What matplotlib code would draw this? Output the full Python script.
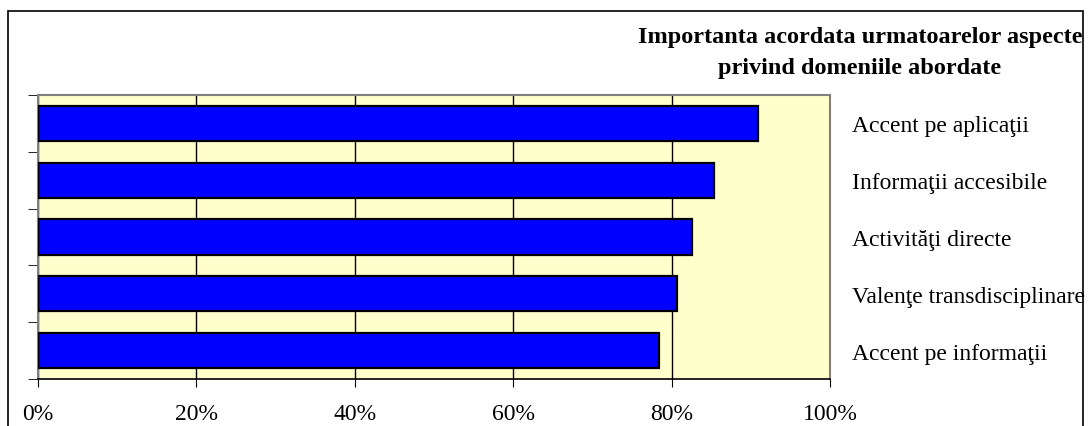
import numpy as np
from matplotlib import pyplot as plt
from matplotlib.patches import Rectangle

# categories listed bottom to top (as drawn)
categories = ['Accent pe informaţii', 'Valenţe transdisciplinare', 'Activităţi directe',
              'Informaţii accesibile', 'Accent pe aplicaţii']
values = [0.784, 0.807, 0.826, 0.853, 0.909]
xticks = [0, 0.2, 0.4, 0.6, 0.8, 1.0]
xlabels = ['0%', '20%', '40%', '60%', '80%', '100%']
title = 'Importanta acordata urmatoarelor aspecte\nprivind domeniile abordate'

plt.rcParams['font.family'] = ['Liberation Serif', 'DejaVu Serif']

fig = plt.figure(figsize=(10.88, 4.27), dpi=100)
ax = fig.add_axes([38/1088, 47/427, 792/1088, 284/427])

y = np.arange(len(categories))
ax.set_facecolor('#FFFFCC')
ax.barh(y, values, height=0.62, color='#0000FF', edgecolor='black', linewidth=1.6, zorder=3)

ax.set_xlim(0, 1)
ax.set_ylim(-0.5, len(categories) - 0.5)
ax.set_xticks(xticks)
ax.set_xticklabels(xlabels, fontsize=17)
ax.xaxis.grid(True, color='black', linewidth=1, zorder=1)
ax.tick_params(axis='x', direction='out', length=6, pad=11, color='black')

# labels on the right, tick marks at category borders on the left
ax.set_yticks(y)
ax.set_yticklabels(categories, fontsize=17)
ax.yaxis.tick_right()
ax.tick_params(axis='y', which='major', length=0, pad=16)
ax.set_yticks(np.arange(-0.5, len(categories)), minor=True)
ax.tick_params(axis='y', which='minor', left=True, right=False, length=7, direction='out', color='black')

for s in ['top', 'left', 'right']:
    ax.spines[s].set_color('#808080')
    ax.spines[s].set_linewidth(1.5)
ax.spines['bottom'].set_color('black')
ax.spines['bottom'].set_linewidth(1.2)

fig.text(860/1088, 1 - 53/427, title, ha='center', va='center', fontsize=17.5,
         fontweight='bold', linespacing=1.6)

fig.patches.append(Rectangle((8/1088, -0.05), 1075/1088, 1.05 - 12/427, transform=fig.transFigure,
                             fill=False, edgecolor='black', linewidth=1.2))

fig.savefig('out.png', dpi=100)
